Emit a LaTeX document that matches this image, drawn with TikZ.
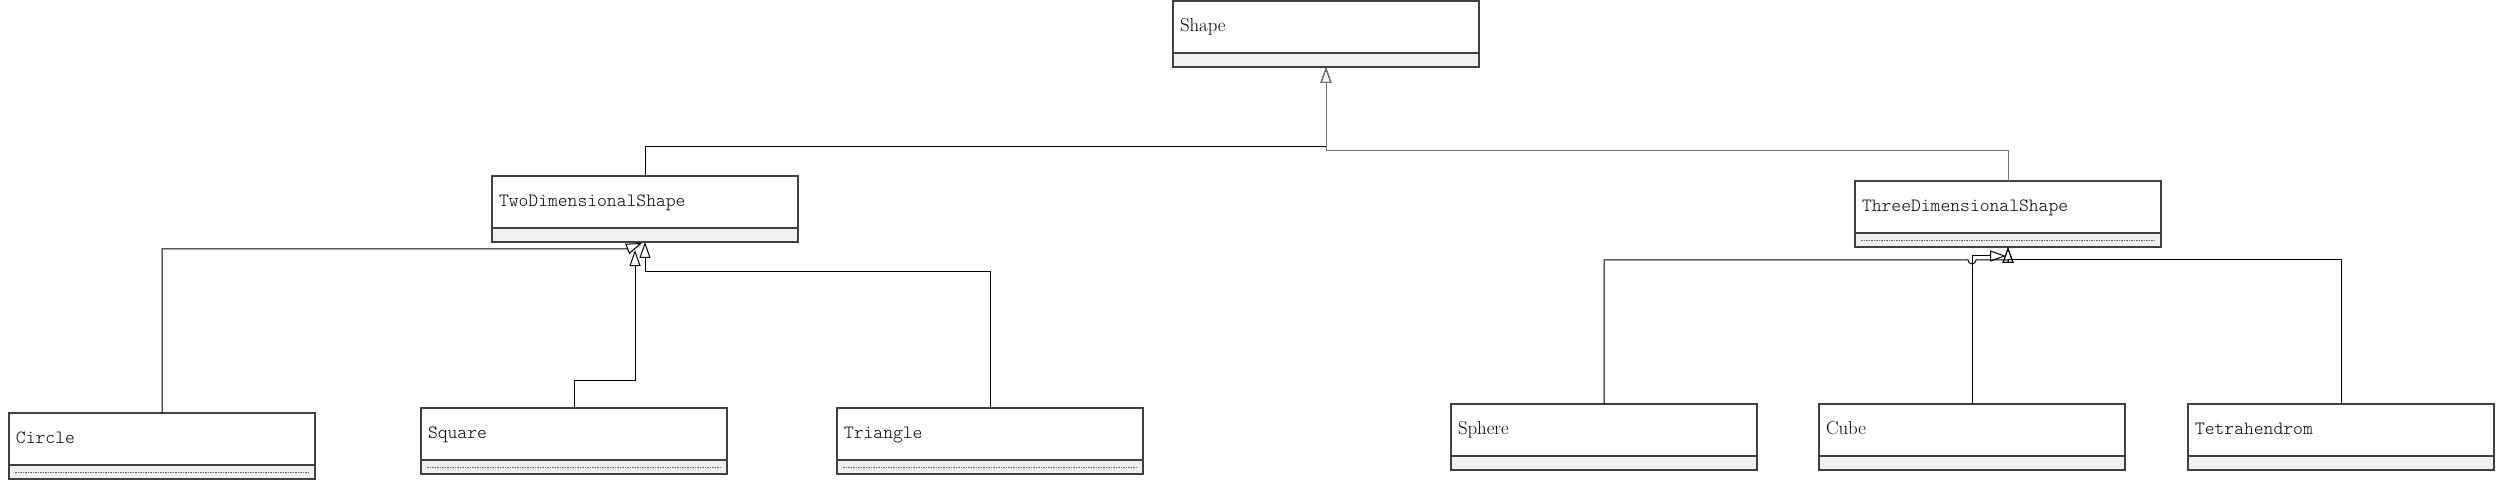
\documentclass[tikz,border=0pt]{standalone}
\usepackage{fontspec}
\setmonofont{Latin Modern Mono Light}
\usetikzlibrary{arrows.meta}
\definecolor{boxline}{HTML}{404040}
\definecolor{compfill}{HTML}{F0F0F0}
\tikzset{
 cls/.style={draw=boxline, line width=1.5pt, fill=white, anchor=north west, outer sep=0pt,
   minimum width=306pt, minimum height=52pt, text width=292pt, inner xsep=7pt, inner ysep=0pt,
   align=left, text height=13pt, text depth=4pt},
 mono/.style={font=\ttfamily\fontsize{18.7}{22}\selectfont},
 rom/.style={font=\rmfamily\fontsize{18.8}{22}\selectfont},
 comp/.style={draw=boxline, line width=1.5pt, fill=compfill, anchor=north, outer sep=0pt,
   minimum width=306pt, minimum height=14pt, inner sep=0pt},
 dots/.style={draw=black!60, line width=0.8pt, dash pattern=on 1.5pt off 1pt},
 gen/.style={line width=1pt, -{Triangle[open, length=16pt, width=11pt, line width=1pt]}},
}
\begin{document}
\begin{tikzpicture}[x=1pt,y=-1pt]
\useasboundingbox[fill=white] (0,0) rectangle (2501,481);
% classes
\node[cls, rom] (shape) at (1173,1) {Shape};
\node[comp] (shapeC) at (shape.south) {};
\node[cls, mono] (two) at (492,176) {TwoDimensionalShape};
\node[comp] (twoC) at (two.south) {};
\node[cls, mono] (three) at (1855,181) {ThreeDimensionalShape};
\node[comp] (threeC) at (three.south) {};
\node[cls, mono] (circ) at (9,413) {Circle};
\node[comp] (circC) at (circ.south) {};
\node[cls, mono] (sq) at (421,408) {Square};
\node[comp] (sqC) at (sq.south) {};
\node[cls, mono] (tri) at (837,408) {Triangle};
\node[comp] (triC) at (tri.south) {};
\node[cls, rom] (sph) at (1451,404) {Sphere};
\node[comp] (sphC) at (sph.south) {};
\node[cls, rom] (cube) at (1819,404) {Cube};
\node[comp] (cubeC) at (cube.south) {};
\node[cls, mono] (tet) at (2188,404) {Tetrahendrom};
\node[comp] (tetC) at (tet.south) {};
% dotted separators
\foreach \n in {threeC,circC,sqC,triC}{
  \draw[dots] ([xshift=6pt]\n.west) -- ([xshift=-6pt]\n.east);
}
% generalisations to Shape
\draw[gen] (two.north) -- ++(0,-29) -| (shapeC.south);
\draw[gen, draw=black!55] (three.north) -- ++(0,-30) -| (shapeC.south);
% to TwoDimensionalShape
\draw[gen] (tri.north) -- ++(0,-137) -| (twoC.south);
\draw[gen] (sq.north) -- ++(0,-28) -| ([xshift=-10pt,yshift=-8pt]twoC.south);
\draw[gen] (circ.north) |- ([xshift=-18pt,yshift=-7pt]twoC.south) -- ([xshift=-3pt,yshift=-1pt]twoC.south);
% to ThreeDimensionalShape
\draw[gen] (sph.north) |- (1968,260) arc[start angle=180, end angle=0, radius=4] -- (2008,260) -- (threeC.south);
\draw[gen] (tet.north) -- ++(0,-144) -| (threeC.south);
\draw[gen] (cube.north) |- ([xshift=-2pt,yshift=-9pt]threeC.south);
\end{tikzpicture}
\end{document}
